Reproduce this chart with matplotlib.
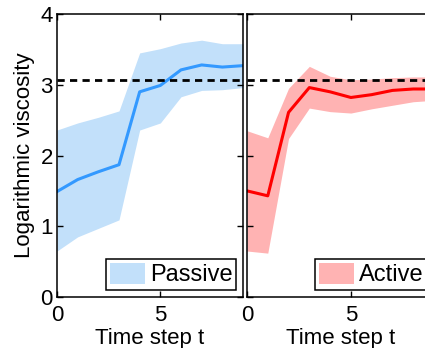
import numpy as np
import matplotlib
matplotlib.use("Agg")
import matplotlib.pyplot as plt

plt.rcParams["font.family"] = ["Liberation Sans", "DejaVu Sans"]
plt.rcParams["font.size"] = 16

t = np.arange(10)
threshold = 3.07

passive_mean = [1.49, 1.66, 1.77, 1.87, 2.90, 2.99, 3.21, 3.28, 3.25, 3.27]
passive_hi = [2.36, 2.46, 2.54, 2.63, 3.45, 3.51, 3.59, 3.63, 3.58, 3.58]
passive_lo = [0.65, 0.85, 0.97, 1.09, 2.36, 2.46, 2.83, 2.92, 2.93, 2.96]

active_mean = [1.50, 1.43, 2.61, 2.96, 2.90, 2.82, 2.86, 2.92, 2.94, 2.94]
active_hi = [2.35, 2.25, 2.95, 3.26, 3.12, 3.07, 3.08, 3.10, 3.11, 3.11]
active_lo = [0.65, 0.62, 2.24, 2.67, 2.62, 2.60, 2.66, 2.71, 2.76, 2.78]

fig = plt.figure(figsize=(4.25, 3.48), dpi=100)
ax1 = fig.add_axes([57 / 425, 51 / 348, 186 / 425, 283 / 348])
ax2 = fig.add_axes([247 / 425, 51 / 348, 187 / 425, 283 / 348])

panels = [
    (ax1, passive_mean, passive_lo, passive_hi, "#3399ff", "#c2e0fa", "Passive"),
    (ax2, active_mean, active_lo, active_hi, "#ff0000", "#ffb3b3", "Active"),
]

for ax, mean, lo, hi, lc, fc, name in panels:
    ax.fill_between(t, lo, hi, color=fc, lw=0, label=name)
    ax.plot(t, mean, color=lc, lw=2.2)
    ax.axhline(threshold, color="black", lw=2, dashes=(2.6, 1.9))
    ax.set_xlim(0, 9)
    ax.set_ylim(0, 4)
    ax.set_xticks([0, 5])
    ax.set_yticks([0, 1, 2, 3, 4])
    ax.tick_params(direction="in", top=True, right=True, length=4, width=1)
    ax.tick_params(axis="x", pad=6)
    ax.tick_params(axis="y", pad=3)
    for s in ax.spines.values():
        s.set_linewidth(1.1)
    ax.set_xlabel("Time step t", labelpad=1)
    leg = ax.legend(loc="lower right", fancybox=False, edgecolor="black",
                    framealpha=1, handlelength=1.5, handleheight=1.0,
                    borderpad=0.15, handletextpad=0.2, borderaxespad=0.3,
                    fontsize=17)
    leg.get_frame().set_linewidth(1.1)

ax1.set_ylabel("Logarithmic viscosity", labelpad=4)
ax2.set_yticklabels([])

fig.savefig("out.png", dpi=100)
